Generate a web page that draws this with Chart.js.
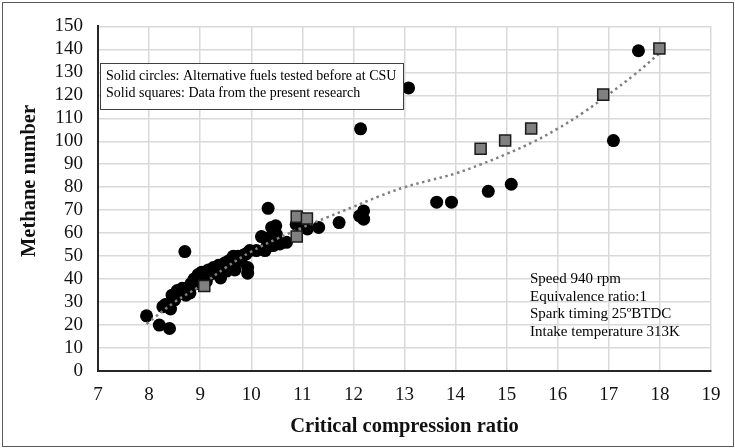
<!DOCTYPE html>
<html>
<head>
<meta charset="utf-8">
<script src="https://cdn.jsdelivr.net/npm/chart.js@4.4.1/dist/chart.umd.min.js"></script>
<style>
    html, body { margin: 0; padding: 0; background: #ffffff; }
    #wrap { position: relative; width: 735px; height: 448px; }
</style>
</head>
<body>
<div id="wrap"><canvas id="chart" width="735" height="448"></canvas></div>
<script>
// Alternative fuels tested before at CSU (solid circles)
const circleCR = [7.95, 8.2, 8.4, 8.7, 8.27, 8.32, 8.42, 8.45, 8.5, 8.55, 8.6, 8.65, 8.72, 8.75, 8.8, 8.82, 8.88, 8.92, 8.96, 9.0,
    9.03, 9.08, 9.12, 9.16, 9.2, 9.26, 9.3, 9.36, 9.4, 9.43, 9.48, 9.52, 9.56, 9.6, 9.65, 9.68, 9.74, 9.8, 9.85, 9.9,
    9.93, 9.93, 9.97, 10.1, 10.2, 10.27, 10.3, 10.43, 10.56, 10.69, 10.35, 10.4, 10.48, 10.48, 10.49, 10.33, 10.88, 11.1, 11.32, 11.72,
    12.12, 12.2, 12.2, 12.14, 13.08, 13.63, 13.92, 14.64, 15.09, 17.09, 17.58];
const circleMN = [24, 20, 18.5, 52, 28, 29, 27, 33, 31, 35, 34, 36, 33, 36, 34, 38, 40, 38, 42, 40,
    43, 42, 39, 44, 42, 45, 43, 46, 40.5, 45, 47, 43.5, 48, 46, 50, 44, 50, 48, 50.5, 51,
    45, 42.6, 52.4, 52.4, 58.5, 52.4, 54, 54.6, 55.3, 56, 58, 62.5, 58.2, 63.2, 59.6, 70.8, 63.8, 61.8, 62.5, 64.6,
    67.5, 69.7, 66.1, 105.4, 123.2, 73.5, 73.5, 78.2, 81.3, 100.3, 139.4];

// Data from the present research (solid squares)
const squareCR = [9.08, 10.89, 10.89, 11.09, 14.49, 14.97, 15.48, 16.89, 17.99];
const squareMN = [37, 58.5, 67.2, 66.4, 96.7, 100.3, 105.6, 120.3, 140.4];

// Dotted trend line
const trendCR = [7.95, 8.5, 9, 9.5, 10, 10.5, 11, 11.5, 12, 12.5, 13, 13.5, 14, 14.5, 15, 15.5, 16, 16.5, 17, 17.5, 18];
const trendMN = [20.5, 30, 37, 45, 52, 57.5, 62.5, 67, 71.5, 76, 80, 83, 86, 90, 94.5, 99.5, 105.5, 112.5, 120.5, 129, 138.5];

const xTicks = [7, 8, 9, 10, 11, 12, 13, 14, 15, 16, 17, 18, 19];
const yTicks = [0, 10, 20, 30, 40, 50, 60, 70, 80, 90, 100, 110, 120, 130, 140, 150];

const xTitle = 'Critical compression ratio';
const yTitle = 'Methane number';
const legendLines = ['Solid circles: Alternative fuels tested before at CSU', 'Solid squares: Data from the present research'];
const infoLines = ['Speed 940 rpm', 'Equivalence ratio:1', 'Spark timing 25ºBTDC', 'Intake temperature 313K'];

const serif = '"Liberation Serif", "Times New Roman", serif';

const toPoints = (xs, ys) => xs.map((x, i) => ({ x: x, y: ys[i] }));

// draws the white background, outer frame, y title and the two text boxes
const notesPlugin = {
    id: 'notes',
    beforeDraw(chart) {
        const ctx = chart.ctx;
        ctx.save();
        ctx.fillStyle = '#ffffff';
        ctx.fillRect(0, 0, chart.width, chart.height);
        ctx.restore();
    },
    afterDraw(chart) {
        const ctx = chart.ctx;
        ctx.save();
        // outer frame
        ctx.strokeStyle = '#595959';
        ctx.lineWidth = 1;
        ctx.strokeRect(2.5, 2.5, chart.width - 4, chart.height - 4);

        // y axis title (sits a little above the plot centre in the original)
        ctx.save();
        ctx.translate(30, 181);
        ctx.rotate(-Math.PI / 2);
        ctx.fillStyle = '#111111';
        ctx.font = 'bold 20.5px ' + serif;
        ctx.textAlign = 'center';
        ctx.textBaseline = 'middle';
        ctx.fillText(yTitle, 0, 0);
        ctx.restore();

        // legend box
        ctx.fillStyle = '#ffffff';
        ctx.fillRect(100.5, 63.5, 303, 46);
        ctx.strokeStyle = '#404040';
        ctx.strokeRect(100.5, 63.5, 303, 46);
        ctx.fillStyle = '#000000';
        ctx.font = '14px ' + serif;
        ctx.textBaseline = 'middle';
        ctx.textAlign = 'left';
        legendLines.forEach((t, i) => ctx.fillText(t, 106, 76 + i * 17.5));

        // test conditions
        ctx.font = '15px ' + serif;
        infoLines.forEach((t, i) => ctx.fillText(t, 530, 279 + i * 17.6));
        ctx.restore();
    }
};

new Chart(document.getElementById('chart'), {
    type: 'scatter',
    data: {
        datasets: [
            {
                label: 'Present research',
                data: toPoints(squareCR, squareMN),
                pointStyle: 'rect',
                pointRadius: 7.8,
                pointHoverRadius: 7.8,
                backgroundColor: '#808080',
                borderColor: '#1a1a1a',
                pointBorderWidth: 1.5,
                order: 0
            },
            {
                label: 'Trend',
                type: 'line',
                data: toPoints(trendCR, trendMN),
                borderColor: '#808080',
                borderWidth: 2.5,
                borderDash: [2.5, 3.5],
                pointRadius: 0,
                tension: 0.4,
                fill: false,
                order: 1
            },
            {
                label: 'Tested before at CSU',
                data: toPoints(circleCR, circleMN),
                pointStyle: 'circle',
                pointRadius: 6.5,
                pointHoverRadius: 6.5,
                backgroundColor: '#000000',
                borderColor: '#000000',
                pointBorderWidth: 0,
                order: 2
            }
        ]
    },
    options: {
        responsive: false,
        animation: false,
        layout: { padding: { top: 24, right: 24, left: 0, bottom: 0 } },
        scales: {
            x: {
                type: 'linear',
                min: 7,
                max: 19,
                afterBuildTicks: (scale) => { scale.ticks = xTicks.map(v => ({ value: v })); },
                afterFit: (scale) => { scale.height = 77; },
                grid: { color: '#d9d9d9', lineWidth: 1.5, drawTicks: false },
                border: { color: '#262626', width: 2 },
                ticks: { color: '#111111', padding: 13, autoSkip: false, maxRotation: 0, font: { family: serif, size: 19 } },
                title: {
                    display: true,
                    text: xTitle,
                    color: '#111111',
                    padding: { top: 0, bottom: 9 },
                    font: { family: serif, size: 20.5, weight: 'bold' }
                }
            },
            y: {
                type: 'linear',
                min: 0,
                max: 150,
                afterBuildTicks: (scale) => { scale.ticks = yTicks.map(v => ({ value: v })); },
                afterFit: (scale) => { scale.width = 98; },
                grid: { color: '#d9d9d9', lineWidth: 1.5, drawTicks: false },
                border: { color: '#262626', width: 2 },
                ticks: { color: '#111111', padding: 15, autoSkip: false, font: { family: serif, size: 19 } },
                title: { display: false }
            }
        },
        plugins: {
            legend: { display: false },
            tooltip: { enabled: false }
        }
    },
    plugins: [notesPlugin]
});
</script>
</body>
</html>
